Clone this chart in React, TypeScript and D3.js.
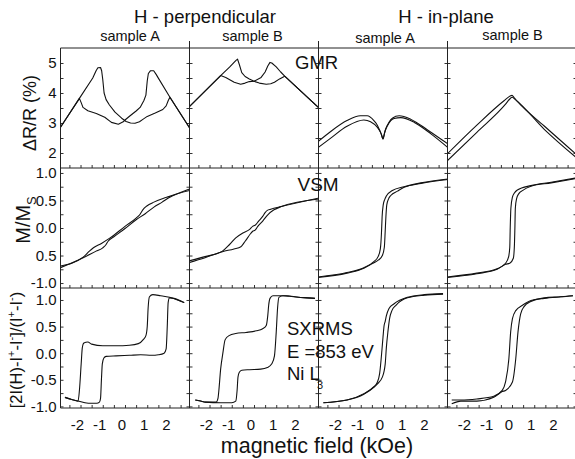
import { useEffect, useRef } from "react";
import * as d3 from "d3";

// field axis, kOe
const fieldTicks = [-2, -1, 0, 1, 2];
const fieldMinor = [-2.5, -2, -1.5, -1, -0.5, 0, 0.5, 1, 1.5, 2, 2.5];

const gmrTicks = [2, 3, 4, 5];
const gmrLabels = ["2", "3", "4", "5"];
const gmrMinor = [2, 2.5, 3, 3.5, 4, 4.5, 5];
const vsmTicks = [1, 0.5, 0, -0.5, -1];
const vsmLabels = ["1.0", "0.5", "0.0", "0.5", "-1.0"];
const sxTicks = [1, 0.5, 0, -0.5, -1];
const sxLabels = ["1.0", "0.5", "0.0", "-0.5", "-1.0"];
const normMinor = [-1, -0.75, -0.5, -0.25, 0, 0.25, 0.5, 0.75, 1];

const groupTitles = ["H - perpendicular", "H - in-plane"];
const sampleTitles = ["sample A", "sample B", "sample A", "sample B"];

// GMR dR/R (%) vs H, two sweep branches per panel
const gmrPerpA1 = [[-2.9, 2.86], [-2.05, 3.82], [-1.45, 4.5], [-1.3, 4.74], [-1.22, 4.84], [-1.1, 4.85], [-1.05, 4.74], [-1.0, 4.45], [-0.94, 4.0], [-0.85, 3.78], [-0.7, 3.6], [-0.45, 3.36], [-0.15, 3.16], [0.05, 3.05], [0.25, 3.0], [0.45, 2.99], [0.65, 3.04], [0.82, 3.13], [1.0, 3.22], [1.36, 3.33], [1.7, 3.45], [1.85, 3.57], [1.95, 3.76], [2.02, 3.86], [2.9, 2.84]];
const gmrPerpA2 = [[-2.9, 2.86], [-2.05, 3.82], [-1.97, 3.68], [-1.89, 3.52], [-1.67, 3.41], [-1.29, 3.32], [-0.91, 3.19], [-0.61, 3.02], [-0.3, 2.96], [-0.08, 3.04], [0.0, 3.1], [0.23, 3.24], [0.5, 3.4], [0.68, 3.52], [0.85, 3.75], [0.94, 3.93], [1.0, 4.4], [1.05, 4.65], [1.14, 4.74], [1.29, 4.74], [1.4, 4.62], [1.52, 4.47], [2.02, 3.86], [2.9, 2.84]];
const gmrPerpB1 = [[-2.94, 3.52], [-1.5, 4.58], [-1.1, 4.86], [-0.82, 5.08], [-0.74, 5.13], [-0.66, 4.95], [-0.55, 4.68], [-0.4, 4.55], [-0.21, 4.47], [0, 4.39], [0.24, 4.33], [0.55, 4.29], [0.75, 4.31], [0.92, 4.36], [1.15, 4.47], [1.38, 4.56], [2.97, 3.47]];
const gmrPerpB2 = [[-2.94, 3.52], [-1.5, 4.58], [-1.27, 4.52], [-0.89, 4.36], [-0.6, 4.29], [-0.4, 4.33], [-0.21, 4.38], [0, 4.39], [0.32, 4.52], [0.5, 4.7], [0.62, 4.9], [0.72, 5.02], [0.8, 5.0], [1.0, 4.87], [1.2, 4.7], [1.38, 4.56], [2.97, 3.47]];
const gmrInA1 = [[-2.92, 2.38], [-2.38, 2.7], [-1.62, 3.08], [-1.02, 3.24], [-0.71, 3.24], [-0.41, 3.08], [-0.25, 2.92], [-0.14, 2.74], [-0.05, 2.58], [0, 2.47], [0.05, 2.6], [0.12, 2.8], [0.25, 3.0], [0.42, 3.16], [0.73, 3.24], [1.26, 3.12], [2.02, 2.76], [2.92, 2.3]];
const gmrInA2 = [[-2.92, 2.18], [-2.38, 2.48], [-1.62, 2.89], [-0.86, 3.1], [-0.56, 3.04], [-0.26, 2.86], [-0.1, 2.67], [0, 2.47], [0.08, 2.7], [0.2, 2.91], [0.35, 3.08], [0.5, 3.15], [0.8, 3.18], [1.41, 3.02], [2.17, 2.63], [2.92, 2.18]];
const gmrInB1 = [[-2.91, 1.97], [-1.58, 2.93], [-0.36, 3.74], [-0.08, 3.9], [0.0, 3.92], [0.1, 3.84], [0.24, 3.72], [1.45, 2.9], [2.9, 1.95]];
const gmrInB2 = [[-2.91, 1.74], [-1.58, 2.69], [-0.3, 3.62], [-0.1, 3.8], [0.0, 3.86], [0.15, 3.78], [1.45, 2.79], [2.9, 1.84]];

// VSM M/Ms vs H
const vsmPerpA1 = [[-2.9, -0.69], [-1.88, -0.53], [-1.6, -0.42], [-1.42, -0.36], [-1.06, -0.28], [-0.67, -0.18], [0, 0.03], [0.5, 0.18], [0.68, 0.25], [0.8, 0.33], [0.98, 0.4], [1.3, 0.47], [1.74, 0.54], [1.97, 0.57], [2.9, 0.71]];
const vsmPerpA2 = [[-2.9, -0.72], [-1.88, -0.54], [-1.3, -0.42], [-1.0, -0.36], [-0.85, -0.3], [-0.76, -0.24], [-0.5, -0.16], [0, -0.01], [0.5, 0.15], [0.91, 0.26], [1.3, 0.38], [1.67, 0.47], [1.97, 0.55], [2.9, 0.68]];
const vsmPerpB1 = [[-2.94, -0.6], [-2.2, -0.52], [-1.42, -0.42], [-1.1, -0.3], [-0.82, -0.18], [-0.5, -0.09], [-0.21, -0.03], [-0.06, 0.03], [0.05, 0.05], [0.2, 0.12], [0.39, 0.21], [0.5, 0.28], [0.6, 0.32], [0.75, 0.34], [1.23, 0.39], [2.97, 0.55]];
const vsmPerpB2 = [[-2.94, -0.63], [-2.2, -0.54], [-1.42, -0.43], [-0.9, -0.38], [-0.59, -0.34], [-0.45, -0.27], [-0.36, -0.22], [-0.15, -0.1], [-0.06, -0.06], [0.05, -0.04], [0.17, 0.03], [0.4, 0.13], [0.62, 0.24], [0.9, 0.33], [1.23, 0.39], [2.97, 0.53]];
const vsmInA1 = [[-2.92, -0.89], [-1.62, -0.81], [-0.86, -0.72], [-0.41, -0.61], [-0.22, -0.52], [-0.12, -0.38], [-0.07, -0.1], [-0.04, 0.2], [0.01, 0.42], [0.08, 0.52], [0.15, 0.58], [0.42, 0.68], [0.95, 0.75], [1.71, 0.82], [2.92, 0.89]];
const vsmInA2 = [[-2.92, -0.9], [-1.62, -0.82], [-0.86, -0.73], [-0.41, -0.63], [-0.2, -0.58], [-0.03, -0.5], [0.06, -0.35], [0.1, -0.05], [0.13, 0.2], [0.17, 0.42], [0.25, 0.53], [0.35, 0.59], [0.65, 0.67], [0.95, 0.74], [1.71, 0.81], [2.92, 0.88]];
const vsmInB1 = [[-2.91, -0.89], [-1.58, -0.82], [-0.67, -0.74], [-0.29, -0.64], [-0.15, -0.52], [-0.1, -0.35], [-0.08, 0.0], [-0.05, 0.36], [0.02, 0.56], [0.1, 0.63], [0.24, 0.69], [0.85, 0.77], [1.76, 0.83], [2.9, 0.91]];
const vsmInB2 = [[-2.91, -0.9], [-1.58, -0.83], [-0.67, -0.75], [-0.29, -0.66], [-0.1, -0.64], [0.06, -0.55], [0.11, -0.3], [0.13, 0.0], [0.15, 0.36], [0.21, 0.54], [0.3, 0.62], [0.47, 0.68], [0.85, 0.76], [1.76, 0.82], [2.9, 0.9]];

// SXRMS normalised intensity vs H
const sxPerpA1 = [[-2.7, -0.83], [-2.4, -0.87], [-2.11, -0.9], [-1.8, -0.93], [-1.5, -0.94], [-1.27, -0.94], [-1.15, -0.92], [-1.1, -0.85], [-1.06, -0.5], [-1.02, -0.2], [-0.95, -0.09], [-0.85, -0.06], [-0.4, -0.05], [0.2, -0.04], [0.7, -0.03], [1.2, -0.04], [1.5, -0.03], [1.76, 0.0], [1.85, 0.08], [1.9, 0.5], [1.94, 0.95], [2.0, 1.04], [2.2, 1.03], [2.66, 0.95]];
const sxPerpA2 = [[-2.7, -0.83], [-2.4, -0.87], [-2.11, -0.9], [-2.05, -0.7], [-1.97, -0.2], [-1.92, 0.1], [-1.85, 0.19], [-1.67, 0.21], [-1.5, 0.17], [-1.0, 0.14], [-0.4, 0.14], [0.2, 0.15], [0.6, 0.18], [0.83, 0.26], [0.94, 0.33], [1.0, 0.5], [1.04, 0.85], [1.1, 1.06], [1.25, 1.1], [1.6, 1.08], [2.0, 1.05], [2.3, 1.01], [2.66, 0.95]];
const sxPerpB1 = [[-2.64, -0.88], [-2.4, -0.9], [-2.18, -0.92], [-1.5, -0.93], [-1.0, -0.93], [-0.82, -0.9], [-0.76, -0.7], [-0.72, -0.45], [-0.66, -0.36], [-0.55, -0.32], [-0.2, -0.31], [0.3, -0.3], [0.6, -0.27], [0.8, -0.2], [0.92, -0.05], [1.0, 0.4], [1.06, 0.85], [1.12, 1.05], [1.3, 1.08], [1.6, 1.07], [2.0, 1.05], [2.4, 1.04], [2.74, 1.03]];
const sxPerpB2 = [[-2.64, -0.88], [-2.4, -0.9], [-2.18, -0.92], [-1.7, -0.92], [-1.62, -0.85], [-1.58, -0.7], [-1.5, -0.3], [-1.4, 0.0], [-1.3, 0.25], [-1.12, 0.33], [-0.82, 0.37], [-0.36, 0.39], [0.1, 0.42], [0.39, 0.46], [0.55, 0.52], [0.62, 0.71], [0.66, 0.9], [0.72, 1.03], [0.85, 1.08], [1.45, 1.08], [2.0, 1.05], [2.4, 1.04], [2.74, 1.03]];
const sxInA1 = [[-2.68, -0.93], [-1.62, -0.88], [-0.86, -0.76], [-0.41, -0.63], [-0.26, -0.55], [-0.15, -0.38], [-0.05, 0.05], [0.0, 0.3], [0.05, 0.52], [0.1, 0.6], [0.15, 0.7], [0.27, 0.84], [0.5, 0.93], [1.1, 1.05], [1.86, 1.1], [2.7, 1.12]];
const sxInA2 = [[-2.68, -0.93], [-1.62, -0.88], [-0.86, -0.77], [-0.41, -0.64], [-0.26, -0.58], [-0.03, -0.45], [0.1, -0.2], [0.15, 0.1], [0.22, 0.4], [0.3, 0.66], [0.4, 0.8], [0.58, 0.9], [1.1, 1.04], [1.86, 1.09], [2.7, 1.11]];
const sxInB1 = [[-2.71, -0.88], [-2.3, -0.88], [-1.58, -0.86], [-0.82, -0.81], [-0.44, -0.7], [-0.29, -0.54], [-0.14, -0.1], [-0.06, 0.4], [0.02, 0.65], [0.17, 0.8], [0.47, 0.9], [0.85, 0.99], [1.45, 1.03], [2.2, 1.06], [2.74, 1.08]];
const sxInB2 = [[-2.71, -0.95], [-2.3, -0.9], [-1.58, -0.9], [-0.82, -0.83], [-0.44, -0.72], [-0.29, -0.7], [0.02, -0.54], [0.17, -0.1], [0.27, 0.4], [0.39, 0.74], [0.55, 0.88], [0.85, 0.97], [1.45, 1.04], [2.2, 1.06], [2.74, 1.08]];

export default function App() {
    const svgRef = useRef(null);

    useEffect(() => {
        const width = 575;
        const left = 60.5;
        const top = 48;
        const pw = 129;
        const ph = 120;
        const font = "'Liberation Sans', Arial, sans-serif";

        const svg = d3.select(svgRef.current);
        svg.selectAll("*").remove();

        const rows = [
            { domain: [1.5, 5.5], ticks: gmrTicks, labels: gmrLabels, minor: gmrMinor },
            { domain: [-1.09, 1.09], ticks: vsmTicks, labels: vsmLabels, minor: normMinor },
            { domain: [-1.03, 1.225], ticks: sxTicks, labels: sxLabels, minor: normMinor },
        ];
        const grid = [
            [[gmrPerpA1, gmrPerpA2], [gmrPerpB1, gmrPerpB2], [gmrInA1, gmrInA2], [gmrInB1, gmrInB2]],
            [[vsmPerpA1, vsmPerpA2], [vsmPerpB1, vsmPerpB2], [vsmInA1, vsmInA2], [vsmInB1, vsmInB2]],
            [[sxPerpA1, sxPerpA2], [sxPerpB1, sxPerpB2], [sxInA1, sxInA2], [sxInB1, sxInB2]],
        ];

        grid.forEach((rowData, r) => {
            const y = d3.scaleLinear()
                .domain(rows[r].domain)
                .range([top + (r + 1) * ph, top + r * ph]);

            rowData.forEach((branches, c) => {
                const x0 = left + c * pw;
                const x = d3.scaleLinear()
                    .domain([-2.9, 2.9])
                    .range([x0, x0 + pw]);
                const id = `clip-${r}-${c}`;
                svg.append("clipPath").attr("id", id)
                    .append("rect")
                    .attr("x", x0).attr("y", top + r * ph)
                    .attr("width", pw).attr("height", ph);

                // inward ticks
                const noLabel = () => "";
                svg.append("g")
                    .attr("transform", `translate(0,${top + (r + 1) * ph})`)
                    .attr("color", "#333")
                    .call(d3.axisBottom(x).tickValues(fieldMinor).tickSize(-3).tickFormat(noLabel))
                    .call(g => g.select(".domain").remove());
                svg.append("g")
                    .attr("transform", `translate(${x0},0)`)
                    .attr("color", "#333")
                    .call(d3.axisLeft(y).tickValues(rows[r].minor).tickSize(-3).tickFormat(noLabel))
                    .call(g => g.select(".domain").remove());
                svg.append("g")
                    .attr("transform", `translate(${x0 + pw},0)`)
                    .attr("color", "#333")
                    .call(d3.axisRight(y).tickValues(rows[r].minor).tickSize(-3).tickFormat(noLabel))
                    .call(g => g.select(".domain").remove());

                // GMR perpendicular curves have sharp kinks, keep them straight
                const line = d3.line()
                    .x(d => x(d[0]))
                    .y(d => y(d[1]))
                    .curve(r === 0 && c < 2 ? d3.curveLinear : d3.curveMonotoneX);

                branches.forEach(b => {
                    svg.append("path")
                        .attr("d", line(b))
                        .attr("fill", "none")
                        .attr("stroke", "#111")
                        .attr("stroke-width", 1.1)
                        .attr("stroke-linejoin", "round")
                        .attr("clip-path", `url(#${id})`);
                });

                // field tick labels on bottom row
                if (r === 2) {
                    svg.selectAll(`text.xt${c}`)
                        .data(fieldTicks)
                        .enter()
                        .append("text")
                        .attr("x", d => x(d) - 3)
                        .attr("y", 429.5)
                        .attr("text-anchor", "middle")
                        .attr("font-family", font)
                        .attr("font-size", "15px")
                        .attr("fill", "#111")
                        .text(d => String(d));
                }
            });

            // y tick labels on first column
            svg.selectAll(`text.yt${r}`)
                .data(rows[r].ticks)
                .enter()
                .append("text")
                .attr("x", 56.5)
                .attr("y", d => y(d))
                .attr("dy", "0.36em")
                .attr("text-anchor", "end")
                .attr("font-family", font)
                .attr("font-size", "15px")
                .attr("fill", "#111")
                .text((d, i) => rows[r].labels[i]);
        });

        // frame
        const frame = svg.append("g").attr("stroke", "#222").attr("stroke-width", 1);
        [0, 1, 2, 3].forEach(i => {
            frame.append("line")
                .attr("x1", left).attr("x2", width)
                .attr("y1", top + i * ph).attr("y2", top + i * ph);
        });
        [0, 1, 2, 3].forEach(i => {
            frame.append("line")
                .attr("x1", left + i * pw).attr("x2", left + i * pw)
                .attr("y1", i === 0 ? top : top - 7).attr("y2", top + 3 * ph);
        });

        const text = (x, y, s, size, anchor = "start") =>
            svg.append("text")
                .attr("x", x).attr("y", y)
                .attr("text-anchor", anchor)
                .attr("font-family", font)
                .attr("font-size", size)
                .attr("fill", "#111")
                .text(s);

        text(205, 23, groupTitles[0], "18.5px", "middle");
        text(446, 23, groupTitles[1], "18.5px", "middle");
        const sampleX = [130, 252.5, 385, 512.5];
        const sampleY = [41, 41, 42.5, 40];
        sampleTitles.forEach((s, i) => text(sampleX[i], sampleY[i], s, "14.5px", "middle"));

        text(295, 68.5, "GMR", "18.5px");
        text(297.5, 190.5, "VSM", "19px");
        text(287, 335, "SXRMS", "18.5px");
        text(287, 358, "E =853 eV", "18.5px");
        const ni = text(287, 380, "Ni L", "18.5px");
        ni.append("tspan").attr("font-size", "11px").attr("dx", -3).attr("dy", 9).text("3");

        text(317, 452.5, "magnetic field (kOe)", "21.5px", "middle");

        // rotated row titles
        svg.append("text")
            .attr("transform", "translate(36,113) rotate(-90)")
            .attr("text-anchor", "middle")
            .attr("font-family", font)
            .attr("font-size", "18px")
            .attr("fill", "#111")
            .text("ΔR/R (%)");

        const ms = svg.append("text")
            .attr("transform", "translate(30,220) rotate(-90)")
            .attr("text-anchor", "middle")
            .attr("font-family", font)
            .attr("font-size", "20px")
            .attr("fill", "#111");
        ms.append("tspan").text("M/M");
        ms.append("tspan").attr("font-size", "13px").attr("dy", 6).text("S");

        const ir = svg.append("text")
            .attr("transform", "translate(22,350) rotate(-90)")
            .attr("text-anchor", "middle")
            .attr("font-family", font)
            .attr("font-size", "16.5px")
            .attr("fill", "#111");
        const parts = [
            ["[2I(H)-I", 0], ["+", 1], ["-I", 0], ["-", 1], ["]/(I", 0], ["+", 1], ["-I", 0], ["-", 1], [")", 0],
        ];
        parts.forEach(([s, sup]) => {
            const t = ir.append("tspan").text(s);
            if (sup) t.attr("font-size", "11px").attr("dy", -7);
            else if (s !== parts[0][0]) t.attr("dy", 7);
        });
    }, []);

    return (
        <svg
            ref={svgRef}
            width={575}
            height={459}
            style={{ position: "absolute", left: 0, top: 0, background: "#fff" }}
        ></svg>
    );
}
